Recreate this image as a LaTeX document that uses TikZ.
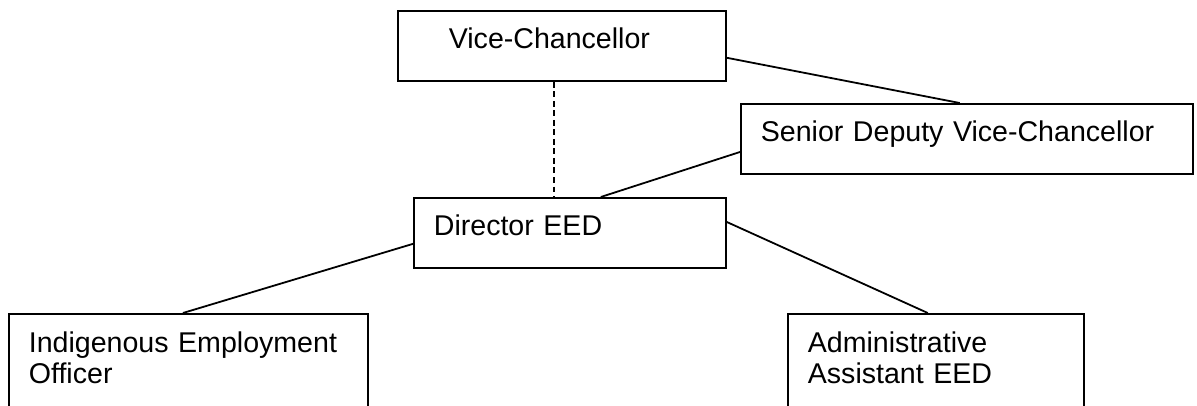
\documentclass[tikz,border=0pt]{standalone}
\usepackage{fontspec}
\setmainfont{Liberation Sans}
\usepackage{tikz}

\begin{document}
\begin{tikzpicture}[
    x=0.42pt, y=-0.42pt,
    font=\fontsize{12}{12.8}\selectfont,
    orgbox/.style={
        rectangle,
        draw=black,
        line width=0.75pt,
        anchor=north west,
        align=left,
        inner xsep=8.4pt,
        inner ysep=0pt,
        text height=15.6pt,
        text depth=13.8pt
    },
    openbox/.style={
        orgbox,
        text height=16.4pt,
        text depth=50pt
    },
    link/.style={line width=0.75pt},
    dotlink/.style={line width=0.75pt, dash pattern=on 2.5pt off 1.5pt}
]
\useasboundingbox (0,0) rectangle (1197,406);

\node[orgbox, text width=121pt]   (vc)   at (397, 10)  {\hspace*{13pt}Vice-Chancellor};
\node[orgbox, text width=173pt]   (sdvc) at (740, 103) {Senior Deputy Vice-Chancellor};
\node[orgbox, text width=114.2pt] (dir)  at (413, 197) {Director EED};
\node[openbox, text width=134pt]  (ieo)  at (8, 313)   {Indigenous Employment\\Officer};
\node[openbox, text width=107.5pt](aae)  at (787, 313) {Administrative\\Assistant EED};

\draw[link] ([yshift=-5pt]vc.east) -- ([xshift=-3pt]sdvc.north);
\draw[dotlink] ([xshift=-3.4pt]vc.south) -- ([xshift=-3.4pt]vc.south |- dir.north);
\draw[link] ([yshift=-5.5pt]sdvc.west) -- ([xshift=13pt]dir.north);
\draw[link] ([yshift=-4.6pt]dir.west) -- ([xshift=-2.3pt]ieo.north);
\draw[link] ([yshift=4.6pt]dir.east) -- ([xshift=-3.4pt]aae.north);

\end{tikzpicture}
\end{document}
